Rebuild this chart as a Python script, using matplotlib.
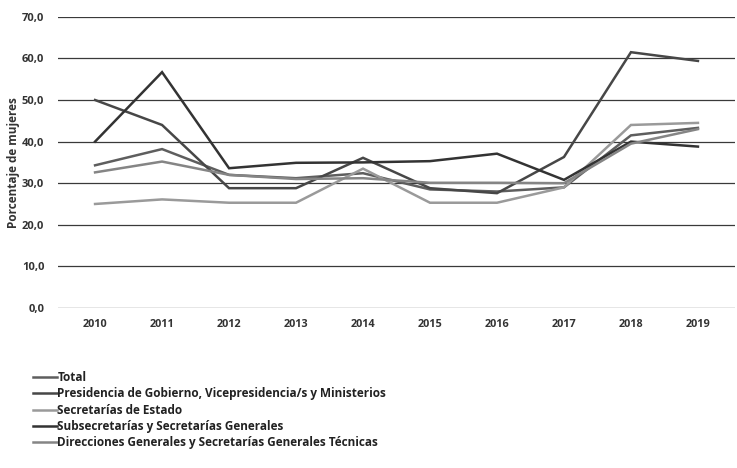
import matplotlib
matplotlib.use("Agg")
import matplotlib.pyplot as plt

years = [2010, 2011, 2012, 2013, 2014, 2015, 2016, 2017, 2018, 2019]
series_names = [
    "Total",
    "Presidencia de Gobierno, Vicepresidencia/s y Ministerios",
    "Secretarías de Estado",
    "Subsecretarías y Secretarías Generales",
    "Direcciones Generales y Secretarías Generales Técnicas",
]
total = [34.3, 38.2, 32.0, 31.2, 32.4, 28.5, 28.0, 29.0, 41.5, 43.3]
presidencia = [50.0, 44.0, 28.8, 28.8, 36.1, 28.8, 27.6, 36.3, 61.5, 59.4]
secretarias_estado = [25.0, 26.1, 25.3, 25.3, 33.5, 25.3, 25.3, 29.0, 44.0, 44.5]
subsecretarias = [40.0, 56.7, 33.6, 34.9, 35.0, 35.3, 37.1, 30.8, 40.0, 38.8]
direcciones = [32.6, 35.2, 32.0, 31.0, 31.2, 30.1, 30.1, 30.0, 39.5, 43.0]
y_ticks = [0, 10, 20, 30, 40, 50, 60, 70]

values = [total, presidencia, secretarias_estado, subsecretarias, direcciones]
colors = ["#5e5e5e", "#474747", "#9a9a9a", "#333333", "#858585"]

plt.rcParams['font.family'] = ['Open Sans', 'DejaVu Sans']

fig = plt.figure(figsize=(7.37, 4.68), dpi=100)
ax = fig.add_axes([0.079, 0.342, 0.918, 0.622])

for name, vals, c in zip(series_names, values, colors):
    ax.plot(years, vals, color=c, lw=1.8, label=name, solid_joinstyle='miter')

ax.set_ylim(0, 70)
ax.set_xlim(2009.45, 2019.55)
ax.set_yticks(y_ticks)
ax.set_yticklabels([f"{v:.1f}".replace(".", ",") for v in y_ticks], fontsize=8, fontweight='bold', color='#333333')
ax.set_xticks(years)
ax.set_xticklabels([str(y) for y in years], fontsize=7.8, fontweight='bold', color='#333333')
ax.tick_params(length=0, pad=8)
ax.tick_params(axis='y', pad=10)
for s in ax.spines.values():
    s.set_visible(False)
ax.yaxis.grid(True, color='#3a3a3a', lw=0.9)
ax.set_axisbelow(True)
ax.set_ylabel("Porcentaje de mujeres", fontsize=8.5, fontweight='bold', color='#333333', labelpad=1)

handles, labels = ax.get_legend_handles_labels()
fig.legend(handles, labels, loc='upper left', bbox_to_anchor=(0.045, 0.207),
           frameon=False, handlelength=2.0, handletextpad=0.05,
           labelspacing=0.28, borderaxespad=0, borderpad=0,
           prop={'family': ['Open Sans', 'DejaVu Sans'], 'weight': 'bold', 'size': 8.5})
for t in fig.legends[0].get_texts():
    t.set_color('#222222')

fig.savefig("out.png", dpi=100, facecolor='white')
